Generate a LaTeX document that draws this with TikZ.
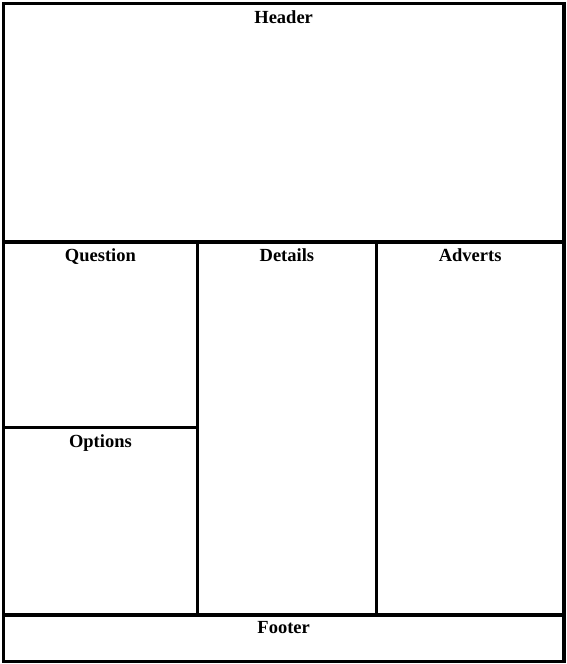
\documentclass[tikz,border=0pt]{standalone}
\usepackage{fontspec}
\setmainfont{Liberation Serif}
\usetikzlibrary{positioning}

\begin{document}
\begin{tikzpicture} [
       x=1pt, y=-1pt,
       panel/.style={rectangle, draw=black, line width=3.8pt, inner sep=0pt,
               anchor=north west},
       title/.style={inner sep=0pt, anchor=north,
               font=\fontsize{18.5}{22}\selectfont\bfseries},
       node distance=8.5pt,
       ]
       \useasboundingbox (0,0) rectangle (566,664);
       \node (header) [panel, minimum width=560.5pt, minimum height=238.5pt] at (1.5,1.5) {};
       \node (question) [panel, minimum width=194pt, minimum height=185.5pt] at (1.5,240) {};
       \node (options) [panel, minimum width=194pt, minimum height=187.5pt] at (1.5,425.5) {};
       \node (details) [panel, minimum width=179pt, minimum height=373pt] at (195.5,240) {};
       \node (adverts) [panel, minimum width=187.5pt, minimum height=373pt] at (374.5,240) {};
       \node (footer) [panel, minimum width=560.5pt, minimum height=46.5pt] at (1.5,613) {};
       % titles
       \node (headertitle) [title, below=of header.north] {Header};
       \node (questiontitle) [title, below=of question.north] {Question};
       \node (optionstitle) [title, below=of options.north] {Options};
       \node (detailstitle) [title, below=of details.north] {Details};
       \node (advertstitle) [title, below=of adverts.north] {Adverts};
       \node (footertitle) [title, below=of footer.north] {Footer};
\end{tikzpicture}
\end{document}
